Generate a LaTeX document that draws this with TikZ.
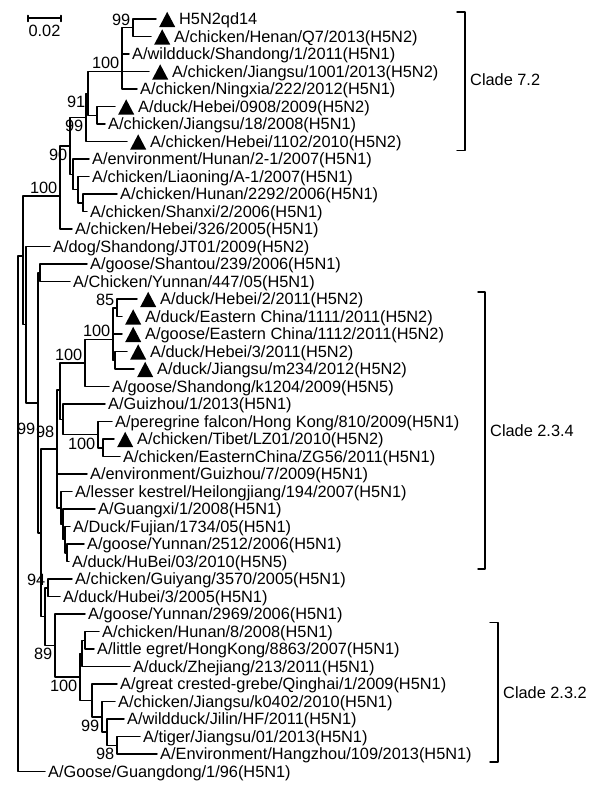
\documentclass[tikz,border=0pt]{standalone}
\usepackage{fontspec}
\setmainfont{Liberation Sans}
\newcommand{\hfive}{\tikz[baseline=0pt, x=1bp, y=1bp]\fill (0,-2.2) -- (16,-2.2) -- (8,13) -- cycle;\hspace{4bp}}
\tikzset{
  every picture/.style={line join=round, line cap=round},
  branch/.style={line width=1.5bp},
  leaf/.style={anchor=west, inner xsep=3bp, inner ysep=0pt, text height=11.7bp, text depth=0pt},
  boot/.style={inner sep=2.5bp, text height=11.7bp, text depth=0pt},
  cladebar/.style={line width=1.4bp},
}
\begin{document}
\begin{tikzpicture}[x=1bp, y=-17.5bp, font=\fontsize{16.4}{19}\selectfont]
\useasboundingbox (0,-0.0857) rectangle (600,45.171);
\draw[branch] (28,0.80) -- (28,1.14) (28,0.94) -- (61,0.94) (61,0.80) -- (61,1.14);
\node[inner sep=0pt] (scale) at (44.5,1.69) {0.02};
\node[leaf] (l1) at (156,1) {\hfive H5N2qd14};
\node[leaf] (l2) at (151,2) {\hfive A/chicken/Henan/Q7/2013(H5N2)};
\node[leaf] (l3) at (129,3) {A/wildduck/Shandong/1/2011(H5N1)};
\node[leaf] (l4) at (149,4) {\hfive A/chicken/Jiangsu/1001/2013(H5N2)};
\node[leaf] (l5) at (137,5) {A/chicken/Ningxia/222/2012(H5N1)};
\node[leaf] (l6) at (115,6) {\hfive A/duck/Hebei/0908/2009(H5N2)};
\node[leaf] (l7) at (105,7) {A/chicken/Jiangsu/18/2008(H5N1)};
\node[leaf] (l8) at (127,8) {\hfive A/chicken/Hebei/1102/2010(H5N2)};
\node[leaf] (l9) at (89,9) {A/environment/Hunan/2-1/2007(H5N1)};
\node[leaf] (l10) at (89,10) {A/chicken/Liaoning/A-1/2007(H5N1)};
\node[leaf] (l11) at (117,11) {A/chicken/Hunan/2292/2006(H5N1)};
\node[leaf] (l12) at (87,12) {A/chicken/Shanxi/2/2006(H5N1)};
\node[leaf] (l13) at (72,13) {A/chicken/Hebei/326/2005(H5N1)};
\node[leaf] (l14) at (50,14) {A/dog/Shandong/JT01/2009(H5N2)};
\node[leaf] (l15) at (87,15) {A/goose/Shantou/239/2006(H5N1)};
\node[leaf] (l16) at (70,16) {A/Chicken/Yunnan/447/05(H5N1)};
\node[leaf] (l17) at (137,17) {\hfive A/duck/Hebei/2/2011(H5N2)};
\node[leaf] (l18) at (122,18) {\hfive A/duck/Eastern China/1111/2011(H5N2)};
\node[leaf] (l19) at (122,19) {\hfive A/goose/Eastern China/1112/2011(H5N2)};
\node[leaf] (l20) at (127,20) {\hfive A/duck/Hebei/3/2011(H5N2)};
\node[leaf] (l21) at (134,21) {\hfive A/duck/Jiangsu/m234/2012(H5N2)};
\node[leaf] (l22) at (109,22) {A/goose/Shandong/k1204/2009(H5N5)};
\node[leaf] (l23) at (105,23) {A/Guizhou/1/2013(H5N1)};
\node[leaf] (l24) at (112,24) {A/peregrine falcon/Hong Kong/810/2009(H5N1)};
\node[leaf] (l25) at (114,25) {\hfive A/chicken/Tibet/LZ01/2010(H5N2)};
\node[leaf] (l26) at (120,26) {A/chicken/EasternChina/ZG56/2011(H5N1)};
\node[leaf] (l27) at (87,27) {A/environment/Guizhou/7/2009(H5N1)};
\node[leaf] (l28) at (72,28) {A/lesser kestrel/Heilongjiang/194/2007(H5N1)};
\node[leaf] (l29) at (95,29) {A/Guangxi/1/2008(H5N1)};
\node[leaf] (l30) at (70,30) {A/Duck/Fujian/1734/05(H5N1)};
\node[leaf] (l31) at (84,31) {A/goose/Yunnan/2512/2006(H5N1)};
\node[leaf] (l32) at (69,32) {A/duck/HuBei/03/2010(H5N5)};
\node[leaf] (l33) at (72,33) {A/chicken/Guiyang/3570/2005(H5N1)};
\node[leaf] (l34) at (60,34) {A/duck/Hubei/3/2005(H5N1)};
\node[leaf] (l35) at (85,35) {A/goose/Yunnan/2969/2006(H5N1)};
\node[leaf] (l36) at (99,36) {A/chicken/Hunan/8/2008(H5N1)};
\node[leaf] (l37) at (94,37) {A/little egret/HongKong/8863/2007(H5N1)};
\node[leaf] (l38) at (130,38) {A/duck/Zhejiang/213/2011(H5N1)};
\node[leaf] (l39) at (117,39) {A/great crested-grebe/Qinghai/1/2009(H5N1)};
\node[leaf] (l40) at (115,40) {A/chicken/Jiangsu/k0402/2010(H5N1)};
\node[leaf] (l41) at (124,41) {A/wildduck/Jilin/HF/2011(H5N1)};
\node[leaf] (l42) at (140,42) {A/tiger/Jiangsu/01/2013(H5N1)};
\node[leaf] (l43) at (157,43) {A/Environment/Hangzhou/109/2013(H5N1)};
\node[leaf] (l44) at (45,44) {A/Goose/Guangdong/1/96(H5N1)};
\coordinate (n99a) at (133,1.5);
\coordinate (n100a) at (122,4);
\coordinate (n99b) at (97,6.5);
\coordinate (n91) at (88,5.25);
\coordinate (n99c) at (86,6.625);
\coordinate (nHS) at (83,11.5);
\coordinate (nLi) at (78,10.75);
\coordinate (nX) at (73,9.875);
\coordinate (n90) at (70,8.25);
\coordinate (n100top) at (60,11.1);
\coordinate (nSY) at (40,15.5);
\coordinate (n85) at (117,17.5);
\coordinate (nH3) at (115,20.5);
\coordinate (n100c) at (113,19.3);
\coordinate (n100b) at (85,20.65);
\coordinate (n100d) at (103,25.5);
\coordinate (nPF) at (98,24.75);
\coordinate (nGz) at (63,23.875);
\coordinate (nB1) at (60,22.19);
\coordinate (nB5) at (67,31.5);
\coordinate (nB4) at (65,30.75);
\coordinate (nB3) at (63,29.875);
\coordinate (nB2) at (61,28.94);
\coordinate (n98) at (57,25.56);
\coordinate (n94) at (48,33.5);
\coordinate (nHL) at (85,36.5);
\coordinate (nHLZ) at (82,37.25);
\coordinate (n98e) at (117,42.5);
\coordinate (nWJ) at (107,41.75);
\coordinate (n99e) at (102,40.875);
\coordinate (nGR) at (92,39.94);
\coordinate (n100e) at (80,38.59);
\coordinate (n89) at (55,36.8);
\coordinate (nM) at (45,35.15);
\coordinate (nK) at (41,30.36);
\coordinate (nF) at (38,22.93);
\coordinate (nD) at (26,18.47);
\coordinate (nC) at (23,14.55);
\coordinate (root) at (18,29.27);
\foreach \p/\c in {root/nC, root/l44, nC/n100top, nC/nD, n100top/n90, n100top/l13,
    n90/n99c, n90/nX, n99c/n91, n99c/l8, n91/n100a, n91/n99b,
    n100a/n99a, n100a/l3, n100a/l4, n100a/l5, n99a/l1, n99a/l2, n99b/l6, n99b/l7,
    nX/l9, nX/nLi, nLi/l10, nLi/nHS, nHS/l11, nHS/l12,
    nD/l14, nD/nF, nF/nSY, nF/nK, nSY/l15, nSY/l16,
    nK/n98, nK/nM, nM/n94, nM/n89, n94/l33, n94/l34,
    n98/nB1, n98/l27, n98/nB2, nB1/n100b, nB1/nGz,
    n100b/n100c, n100b/l22, n100c/n85, n100c/l19, n100c/nH3,
    n85/l17, n85/l18, nH3/l20, nH3/l21,
    nGz/l23, nGz/nPF, nPF/l24, nPF/n100d, n100d/l25, n100d/l26,
    nB2/l28, nB2/nB3, nB3/l29, nB3/nB4, nB4/l30, nB4/nB5, nB5/l31, nB5/l32,
    n89/l35, n89/n100e, n100e/nHLZ, n100e/nGR, nHLZ/nHL, nHLZ/l38,
    nHL/l36, nHL/l37, nGR/l39, nGR/n99e, n99e/l40, n99e/nWJ,
    nWJ/l41, nWJ/n98e, n98e/l42, n98e/l43}
  \draw[branch] (\p) |- (\c);
\node[boot, above left] (b99a) at (n99a) {99};
\node[boot, above left] (b100a) at (n100a) {100};
\node[boot, below left] (b91) at (n91) {91};
\node[boot, below left] (b99c) at (n99c) {99};
\node[boot, below left] (b90) at (n90) {90};
\node[boot, above left] (b100top) at (n100top) {100};
\node[boot, above left] (b85) at (n85) {85};
\node[boot, above left] (b100c) at (n100c) {100};
\node[boot, above left] (b100b) at (n100b) {100};
\node[boot, below left] (bPF) at (nPF) {100};
\node[boot, below left, yshift=-17bp] (bF) at (nF) {99};
\node[boot, above left, yshift=9bp] (b98) at (n98) {98};
\node[boot, above left] (b94) at (n94) {94};
\node[boot, below left] (b89) at (n89) {89};
\node[boot, below left] (b100e) at (n100e) {100};
\node[boot, below left] (b99e) at (n99e) {99};
\node[boot, below left] (b98e) at (n98e) {98};
\draw[cladebar] (457,0.6) -| (465,8.5) -- (457,8.5);
\node[leaf] (clade72) at (467,4.49) {Clade 7.2};
\draw[cladebar] (478,16.6) -| (485,32.43) -- (478,32.43);
\node[leaf] (clade234) at (487,24.5) {Clade 2.3.4};
\draw[cladebar] (490,35.5) -| (498,43.46) -- (490,43.46);
\node[leaf] (clade232) at (500,39.5) {Clade 2.3.2};
\end{tikzpicture}
\end{document}
